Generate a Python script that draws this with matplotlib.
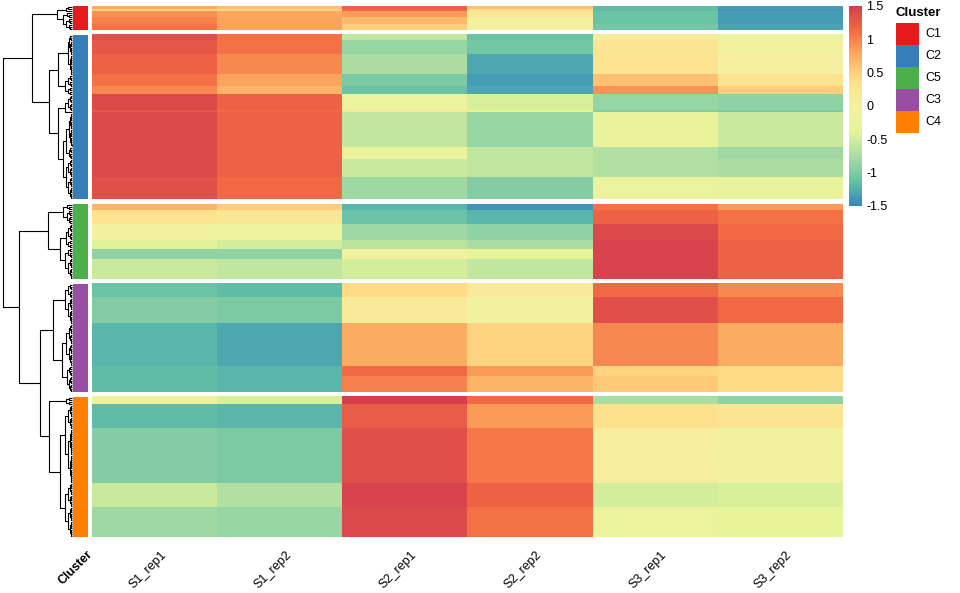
import numpy as np
import matplotlib
matplotlib.use("Agg")
import matplotlib.pyplot as plt
from matplotlib.colors import LinearSegmentedColormap, Normalize
from matplotlib.patches import Rectangle

plt.rcParams['font.family'] = ['Liberation Sans', 'DejaVu Sans']

samples = ['S1_rep1', 'S1_rep2', 'S2_rep1', 'S2_rep2', 'S3_rep1', 'S3_rep2']
cluster_order = ['C1', 'C2', 'C5', 'C3', 'C4']
legend_order = ['C1', 'C2', 'C5', 'C3', 'C4']
cluster_colors = {'C1': '#E41A1C', 'C2': '#377EB8', 'C5': '#4DAF4A',
                  'C3': '#984EA3', 'C4': '#FF7F00'}

# row bands: values for the 6 samples, and how many genes share them
C1_vals = [[0.75, 0.6, 1.2, 0.6, -1.15, -1.35],
           [0.45, 0.45, 1.15, 0.35, -1.15, -1.4],
           [0.92, 0.78, 0.85, 0.2, -1.1, -1.35],
           [1.0, 0.82, 0.65, 0.02, -1.1, -1.35],
           [1.08, 0.82, 0.5, 0.03, -1.05, -1.32]]
C1_n = [2, 1, 3, 3, 3]

C2_vals = [[1.35, 1.1, -0.6, -1.1, 0.1, -0.2],
           [1.3, 1.1, -0.85, -1.05, 0.25, -0.1],
           [1.2, 0.95, -0.75, -1.3, 0.3, 0.0],
           [1.1, 0.8, -1.0, -1.35, 0.6, 0.3],
           [0.95, 0.7, -1.1, -1.3, 0.9, 0.5],
           [1.4, 1.2, -0.2, -0.45, -0.85, -0.9],
           [1.3, 1.15, 0.2, -0.3, -0.95, -1.0],
           [1.4, 1.2, -0.6, -0.85, -0.3, -0.55],
           [1.4, 1.2, -0.2, -0.6, -0.7, -0.8],
           [1.4, 1.2, -0.55, -0.6, -0.7, -0.75],
           [1.35, 1.15, -0.8, -0.95, -0.2, -0.3]]
C2_n = [3, 7, 10, 6, 4, 8, 1, 17, 6, 9, 11]

C5_vals = [[0.7, 0.5, -1.2, -1.4, 1.1, 0.85],
           [0.3, 0.2, -1.1, -1.2, 1.2, 1.1],
           [-0.1, -0.15, -0.8, -0.9, 1.4, 1.15],
           [-0.4, -0.5, -0.65, -0.75, 1.45, 1.2],
           [-0.9, -0.9, -0.1, -0.35, 1.45, 1.2],
           [-0.55, -0.6, -0.5, -0.6, 1.45, 1.2]]
C5_n = [3, 7, 8, 4, 5, 10]

C3_vals = [[-1.1, -1.15, 0.4, 0.15, 1.15, 0.95],
           [-0.95, -1.0, 0.15, -0.1, 1.35, 1.15],
           [-1.2, -1.3, 0.75, 0.45, 0.95, 0.75],
           [-1.15, -1.2, 1.15, 0.85, 0.45, 0.4],
           [-1.15, -1.2, 1.0, 0.7, 0.55, 0.4]]
C3_n = [7, 13, 21, 5, 8]

C4_vals = [[-0.2, -0.45, 1.5, 1.15, -0.75, -0.9],
           [-1.15, -1.2, 1.25, 0.85, 0.35, 0.25],
           [-0.95, -1.0, 1.35, 1.05, 0.05, -0.1],
           [-0.55, -0.7, 1.45, 1.2, -0.5, -0.45],
           [-0.8, -0.85, 1.4, 1.1, -0.2, -0.35]]
C4_n = [4, 12, 27, 12, 15]

# dendrogram: (merge height, left, right); ints are bands of the cluster
C1_tree = (0.22, (0.09, 0, 1), (0.13, 2, (0.08, 3, 4)))
C2_tree = (0.33, (0.2, (0.06, (0.04, 0, 1), 2), (0.1, 3, 4)),
                 (0.2, (0.1, 5, 6), (0.13, (0.08, 7, 8), (0.09, 9, 10))))
C5_tree = (0.35, (0.13, 0, 1), (0.17, (0.09, 2, 3), (0.1, 4, 5)))
C3_tree = (0.27, (0.1, 0, 1), (0.15, 2, (0.07, 3, 4)))
C4_tree = (0.33, 0, (0.17, (0.1, 1, 2), (0.1, 3, 4)))
top_tree = (1.0, (0.58, 'C1', 'C2'), (0.77, 'C5', (0.46, 'C3', 'C4')))

vals = {'C1': C1_vals, 'C2': C2_vals, 'C5': C5_vals, 'C3': C3_vals, 'C4': C4_vals}
counts = {'C1': C1_n, 'C2': C2_n, 'C5': C5_n, 'C3': C3_n, 'C4': C4_n}
trees = {'C1': C1_tree, 'C2': C2_tree, 'C5': C5_tree, 'C3': C3_tree, 'C4': C4_tree}

cmap = LinearSegmentedColormap.from_list('spec', ['#3288BD', '#66C2A5', '#ABDDA4', '#E6F598', '#F5F1A2',
                                                  '#FEE08B', '#FDAE61', '#F46D43', '#D53E4F'])
norm = Normalize(-1.5, 1.5)

W, H = 960, 593
fig = plt.figure(figsize=(W / 100, H / 100), dpi=100)


def box(x0, y0, x1, y1):
    return [x0 / W, 1 - y1 / H, (x1 - x0) / W, (y1 - y0) / H]


gap = 2.5
offset = {}
band_start = {}
pos = 0
for c in cluster_order:
    offset[c] = pos
    band_start[c] = pos + np.concatenate([[0], np.cumsum(counts[c])[:-1]])
    pos += sum(counts[c]) + gap
total = pos - gap

ax_h = fig.add_axes(box(92, 6, 843, 537))
ax_a = fig.add_axes(box(73, 6, 88, 537))
for c in cluster_order:
    arr = np.repeat(np.array(vals[c]), counts[c], axis=0)
    n = arr.shape[0]
    ax_h.imshow(arr, cmap=cmap, norm=norm, aspect='auto', interpolation='nearest',
                extent=(0, 6, offset[c] + n, offset[c]))
    ax_a.barh(offset[c] + n / 2, 1, height=n, left=0, color=cluster_colors[c])
for ax in (ax_h, ax_a):
    ax.set_ylim(total, 0)
    ax.axis('off')
ax_h.set_xlim(0, 6)
ax_a.set_xlim(0, 1)

# dendrogram
ax_d = fig.add_axes(box(3, 6, 72, 537))
ax_d.set_xlim(1.0, 0)
ax_d.set_ylim(total, 0)
ax_d.axis('off')


def link(a, b, h):
    ax_d.plot([a[1], h, h, b[1]], [a[0], a[0], b[0], b[0]], color='black', lw=0.8,
              solid_capstyle='butt', clip_on=False)


def band_tree(y0, n, top):
    if n == 1:
        return (y0 + 0.5, 0.0)
    k = n // 2
    a = band_tree(y0, k, top * 0.6)
    b = band_tree(y0 + k, n - k, top * 0.6)
    link(a, b, top)
    return ((a[0] + b[0]) / 2, top)


def draw_node(node, c, parent_h):
    if isinstance(node, str):
        return draw_node(trees[node], node, parent_h)
    if isinstance(node, int):
        return band_tree(band_start[c][node], counts[c][node], min(0.08, 0.6 * parent_h))
    h, l, r = node
    a = draw_node(l, c, h)
    b = draw_node(r, c, h)
    link(a, b, h)
    return ((a[0] + b[0]) / 2, h)


draw_node(top_tree, None, 1.0)

# colorbar
cax = fig.add_axes(box(849, 6, 862, 206))
cb = fig.colorbar(plt.cm.ScalarMappable(norm=norm, cmap=cmap), cax=cax)
cb.outline.set_visible(False)
cb.set_ticks([1.5, 1, 0.5, 0, -0.5, -1, -1.5])
cb.set_ticklabels(['1.5', '1', '0.5', '0', '-0.5', '-1', '-1.5'])
cax.tick_params(length=0, labelsize=9, pad=3)

# cluster legend
ax_l = fig.add_axes(box(880, 0, 960, 140))
ax_l.set_xlim(880, 960)
ax_l.set_ylim(140, 0)
ax_l.axis('off')
ax_l.text(895, 13, 'Cluster', fontsize=9.5, fontweight='bold', va='center', ha='left')
for i, c in enumerate(legend_order):
    ax_l.add_patch(Rectangle((896, 23 + 22 * i), 23, 22, color=cluster_colors[c], lw=0))
    ax_l.text(925, 34 + 22 * i, c, fontsize=9, va='center', ha='left')

# column labels
for i, s in enumerate(samples):
    x = 92 + 125 * (i + 0.5) + 10
    fig.text(x / W, 1 - 553 / H, s, rotation=45, ha='right', va='center',
             rotation_mode='anchor', fontsize=9)
fig.text(91 / W, 1 - 552 / H, 'Cluster', rotation=45, ha='right', va='center',
         rotation_mode='anchor', fontsize=9, fontweight='bold')

fig.savefig('out.png', dpi=100)
